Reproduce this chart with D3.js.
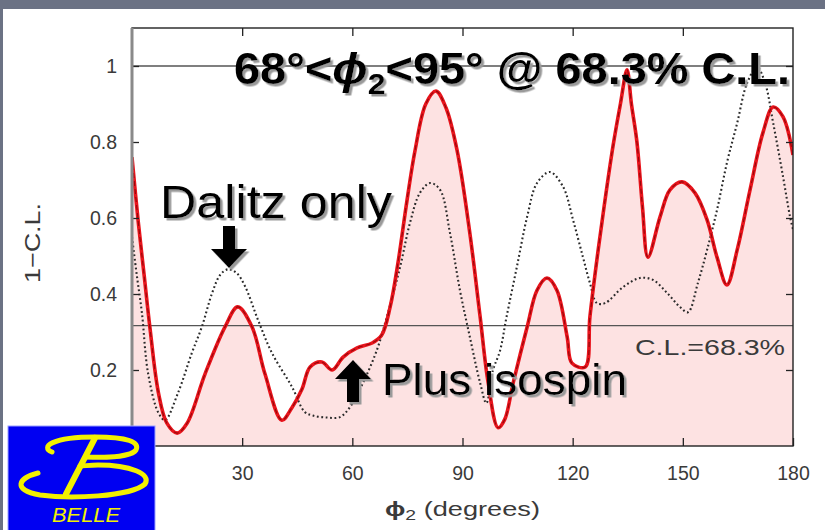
<!DOCTYPE html>
<html>
<head>
<meta charset="utf-8">
<script src="https://cdn.jsdelivr.net/npm/d3@7"></script>
<style>
  html, body { margin: 0; padding: 0; background: #ffffff; }
  svg { display: block; }
</style>
</head>
<body>
<div id="chart"></div>
<script>
// phi2 scan of 1 - C.L. : Dalitz analysis alone and with the isospin constraint
const phiIso = [0, 1.7, 3.3, 4.9, 7.2, 9.5, 12.3, 15, 19.9, 25.3, 28.8, 32.7, 36.2, 40.8, 43.5, 46.3,
  48.5, 51.7, 54.5, 57.5, 61.3, 65.4, 68, 70.3, 72.4, 74.9, 77.1, 80, 82.8, 85.5, 88.5, 92, 94.8,
  97, 99.7, 101.5, 103.8, 107.6, 110.3, 113, 115.7, 118.5, 119.8, 123.4, 124.7, 127, 129, 131,
  133, 134.8, 136, 137.5, 139, 140.5, 143.8, 146.5, 149.8, 153.3, 156.6, 159.3, 162, 164.8,
  168.3, 171.8, 174.6, 177.3, 180];
const clIso = [0.76, 0.59, 0.45, 0.31, 0.14, 0.06, 0.034, 0.06, 0.19, 0.313, 0.366, 0.313, 0.19, 0.068, 0.10, 0.15,
  0.208, 0.221, 0.20, 0.234, 0.258, 0.271, 0.292, 0.366, 0.48, 0.647, 0.779, 0.90, 0.934, 0.89, 0.779, 0.56, 0.34,
  0.166, 0.048, 0.07, 0.166, 0.313, 0.41, 0.442, 0.41, 0.287, 0.218, 0.208, 0.34, 0.52, 0.66, 0.79,
  0.90, 0.99, 0.90, 0.80, 0.63, 0.497, 0.603, 0.674, 0.695, 0.666, 0.595, 0.497, 0.424, 0.516,
  0.674, 0.824, 0.892, 0.866, 0.766];

const phiDalitz = [0, 1.3, 2.7, 4.4, 7.2, 9, 12.5, 16.3, 19, 21.8, 24, 26.1, 28.5, 30.8, 34.3, 38.1,
  43.6, 47, 49.3, 53, 56.6, 59.4, 62.9, 66.7, 69.4, 73, 75.7, 78.4, 81.2, 83.9, 86.6, 89.3, 92,
  94.8, 96.5, 98.3, 100.2, 102, 104.8, 107.6, 110.3, 113.8, 117.4, 120.1, 122.8, 124.7, 126.6,
  128.8, 133.7, 138.3, 141.9, 145.7, 149.2, 151.4, 154.1, 156.6, 159.3, 162, 164.8, 167.5,
  170.2, 172.4, 174.6, 177.3, 179.2, 180];
const clDalitz = [0.55, 0.45, 0.35, 0.19, 0.087, 0.068, 0.139, 0.245, 0.313, 0.402, 0.45, 0.465, 0.455, 0.42, 0.332, 0.245,
  0.155, 0.09, 0.08, 0.075, 0.076, 0.103, 0.166, 0.253, 0.34, 0.471, 0.587, 0.666, 0.692, 0.674, 0.56, 0.41, 0.287,
  0.166, 0.113, 0.20, 0.25, 0.34, 0.471, 0.603, 0.692, 0.721, 0.682, 0.595, 0.497, 0.429, 0.376,
  0.376, 0.418, 0.442, 0.437, 0.403, 0.366, 0.352, 0.429, 0.516, 0.621, 0.745, 0.85, 0.955,
  0.997, 0.955, 0.85, 0.708, 0.603, 0.57];

const xTicks = [30, 60, 90, 120, 150, 180];
const yTicks = [0.2, 0.4, 0.6, 0.8, 1];
const clLevel = 1 - 0.683;

const W = 825, H = 530;
const svg = d3.select("#chart").append("svg").attr("width", W).attr("height", H);

// drop shadow used by the large annotations
const defs = svg.append("defs");
defs.append("filter").attr("id", "shadow").attr("x", "-5%").attr("y", "-10%").attr("width", "115%").attr("height", "130%")
  .append("feDropShadow").attr("dx", 2.5).attr("dy", 2.5).attr("stdDeviation", 0.4)
  .attr("flood-color", "#9a9a9a").attr("flood-opacity", 1);

// slide background
svg.append("rect").attr("width", W).attr("height", H).attr("fill", "#ffffff");
svg.append("rect").attr("x", 0).attr("y", 0).attr("width", W).attr("height", 9).attr("fill", "#6b7284");
svg.append("rect").attr("x", 0).attr("y", 0).attr("width", 3).attr("height", H).attr("fill", "#6b7284");

const x = d3.scaleLinear().domain([0, 180]).range([132, 793]);
const y = d3.scaleLinear().domain([0, 1.1]).range([446, 28]);

const iso = phiIso.map((p, i) => [p, clIso[i]]);
const dal = phiDalitz.map((p, i) => [p, clDalitz[i]]);

const curve = d3.curveCatmullRom.alpha(0.5);
const area = d3.area().x(d => x(d[0])).y0(y(0)).y1(d => y(d[1])).curve(curve);
const line = d3.line().x(d => x(d[0])).y(d => y(d[1])).curve(curve);

defs.append("clipPath").attr("id", "plotclip")
  .append("rect").attr("x", 132).attr("y", 28).attr("width", 661).attr("height", 418);
const plot = svg.append("g").attr("clip-path", "url(#plotclip)");

plot.append("path").datum(iso).attr("d", area).attr("fill", "#fde2e2");

// reference lines at 1 and at the 68.3% C.L.
[1, clLevel].forEach(v => {
  plot.append("line").attr("x1", x(0)).attr("x2", x(180)).attr("y1", y(v)).attr("y2", y(v))
    .attr("stroke", "#555").attr("stroke-width", 1.3);
});

plot.append("path").datum(dal).attr("d", line).attr("fill", "none")
  .attr("stroke", "#2a2a2a").attr("stroke-width", 2.1).attr("stroke-dasharray", "1.8,2.6");

plot.append("path").datum(iso).attr("d", line).attr("fill", "none")
  .attr("stroke", "#e8141c").attr("stroke-width", 3.6).attr("stroke-linejoin", "round");
plot.append("path").datum(iso).attr("d", line).attr("fill", "none")
  .attr("stroke", "#6a0000").attr("stroke-width", 1.1).attr("stroke-dasharray", "5,3")
  .attr("opacity", 0.65);

// axes with inward ticks on all four sides
const fontTick = "'Liberation Sans', Arial, sans-serif";
const gx = svg.append("g").attr("transform", `translate(0,${y(0)})`)
  .call(d3.axisBottom(x).tickValues(xTicks).tickSize(-8).tickPadding(20).tickFormat(d3.format("d")));
const gxTop = svg.append("g").attr("transform", `translate(0,${y(1.1)})`)
  .call(d3.axisTop(x).tickValues(xTicks.slice(0, 5)).tickSize(-8).tickFormat(""));
const gy = svg.append("g").attr("transform", `translate(${x(0)},0)`)
  .call(d3.axisLeft(y).tickValues(yTicks).tickSize(-7).tickPadding(15).tickFormat(d => d === 1 ? "1" : d3.format(".1f")(d)));
const gyR = svg.append("g").attr("transform", `translate(${x(180)},0)`)
  .call(d3.axisRight(y).tickValues(yTicks).tickSize(-7).tickFormat(""));

[gx, gxTop, gy, gyR].forEach(g => {
  g.select(".domain").remove();
  g.selectAll(".tick line").attr("stroke", "#222").attr("stroke-width", 1.3);
  g.selectAll(".tick text").attr("font-family", fontTick).attr("font-size", 19.5).attr("fill", "#3a3a3a");
});

// frame
svg.append("rect").attr("x", 132).attr("y", 28).attr("width", 661).attr("height", 418)
  .attr("fill", "none").attr("stroke", "#222").attr("stroke-width", 1.4);
svg.append("line").attr("x1", 132).attr("x2", 132).attr("y1", 28).attr("y2", 446)
  .attr("stroke", "#8a8a8a").attr("stroke-width", 3);

// axis titles
svg.append("text").attr("transform", "translate(40,243) rotate(-90)")
  .attr("text-anchor", "middle").attr("font-family", fontTick).attr("font-size", 22).attr("fill", "#3a3a3a")
  .attr("textLength", 80).attr("lengthAdjust", "spacingAndGlyphs")
  .text("1\u2212C.L.");
const xt = svg.append("text").attr("x", 385).attr("y", 516)
  .attr("font-family", fontTick).attr("font-size", 21).attr("fill", "#3a3a3a")
  .attr("textLength", 155).attr("lengthAdjust", "spacingAndGlyphs");
xt.append("tspan").attr("font-weight", "bold").text("\u03d5");
xt.append("tspan").attr("font-size", 15).attr("dy", 4).text("2");
xt.append("tspan").attr("dy", -4).text(" (degrees)");

svg.append("text").attr("x", 635).attr("y", 355).attr("font-family", fontTick).attr("font-size", 22)
  .attr("fill", "#3a3a3a").attr("textLength", 150).attr("lengthAdjust", "spacingAndGlyphs").text("C.L.=68.3%");

// annotation texts with drop shadow
const fontNote = "'Liberation Sans', Arial, sans-serif";
function noteText(px, py, len) {
  return svg.append("text").attr("x", px).attr("y", py)
    .attr("font-family", fontNote).attr("fill", "#000").attr("filter", "url(#shadow)")
    .attr("textLength", len).attr("lengthAdjust", "spacingAndGlyphs");
}
const title = noteText(234, 84, 556).attr("font-size", 44).attr("font-weight", "bold");
title.append("tspan").text("68\u00b0<");
title.append("tspan").attr("font-style", "italic").text("\u03d5");
title.append("tspan").attr("font-size", 30).attr("dy", 10).text("2");
title.append("tspan").attr("dy", -10).text("<95\u00b0 @ 68.3% C.L.");
noteText(160, 218, 232).attr("font-size", 47).text("Dalitz only");
noteText(382, 395, 245).attr("font-size", 44).text("Plus isospin");

// arrows
function arrow(tipX, tipY, dir) {
  const s = dir; // 1 points down, -1 points up
  const pts = [
    [tipX, tipY], [tipX - 18, tipY - s * 19], [tipX - 6, tipY - s * 19], [tipX - 6, tipY - s * 42],
    [tipX + 6, tipY - s * 42], [tipX + 6, tipY - s * 19], [tipX + 18, tipY - s * 19]
  ];
  svg.append("path").attr("d", "M" + pts.map(q => q.join(",")).join("L") + "Z")
    .attr("fill", "#000").attr("filter", "url(#shadow)");
}
arrow(229, 268, 1);
arrow(353, 360, -1);

// Belle logo
const logo = svg.append("g");
logo.append("rect").attr("x", 8).attr("y", 426).attr("width", 147).attr("height", 110)
  .attr("fill", "#0000f2").attr("stroke", "#9aa0ff").attr("stroke-width", 1);
const yel = "#f2f000";
logo.append("path")
  .attr("d", "M52,452 C40,447 52,437 95,437 C128,437 140,442 136,450 C132,456 112,458 86,457")
  .attr("fill", "none").attr("stroke", yel).attr("stroke-width", 5).attr("stroke-linecap", "round");
logo.append("path")
  .attr("d", "M38,473 C18,478 12,490 40,495 C70,499 130,497 145,484 C152,474 130,465 98,465 C90,465 84,466 80,466")
  .attr("fill", "none").attr("stroke", yel).attr("stroke-width", 5).attr("stroke-linecap", "round");
logo.append("path").attr("d", "M66,494 L95,438")
  .attr("stroke", yel).attr("stroke-width", 6).attr("stroke-linecap", "round");
logo.append("text").attr("x", 52).attr("y", 522).attr("font-family", fontTick).attr("font-style", "italic")
  .attr("font-size", 20).attr("fill", yel).attr("textLength", 68).attr("lengthAdjust", "spacingAndGlyphs")
  .text("BELLE");
</script>
</body>
</html>
